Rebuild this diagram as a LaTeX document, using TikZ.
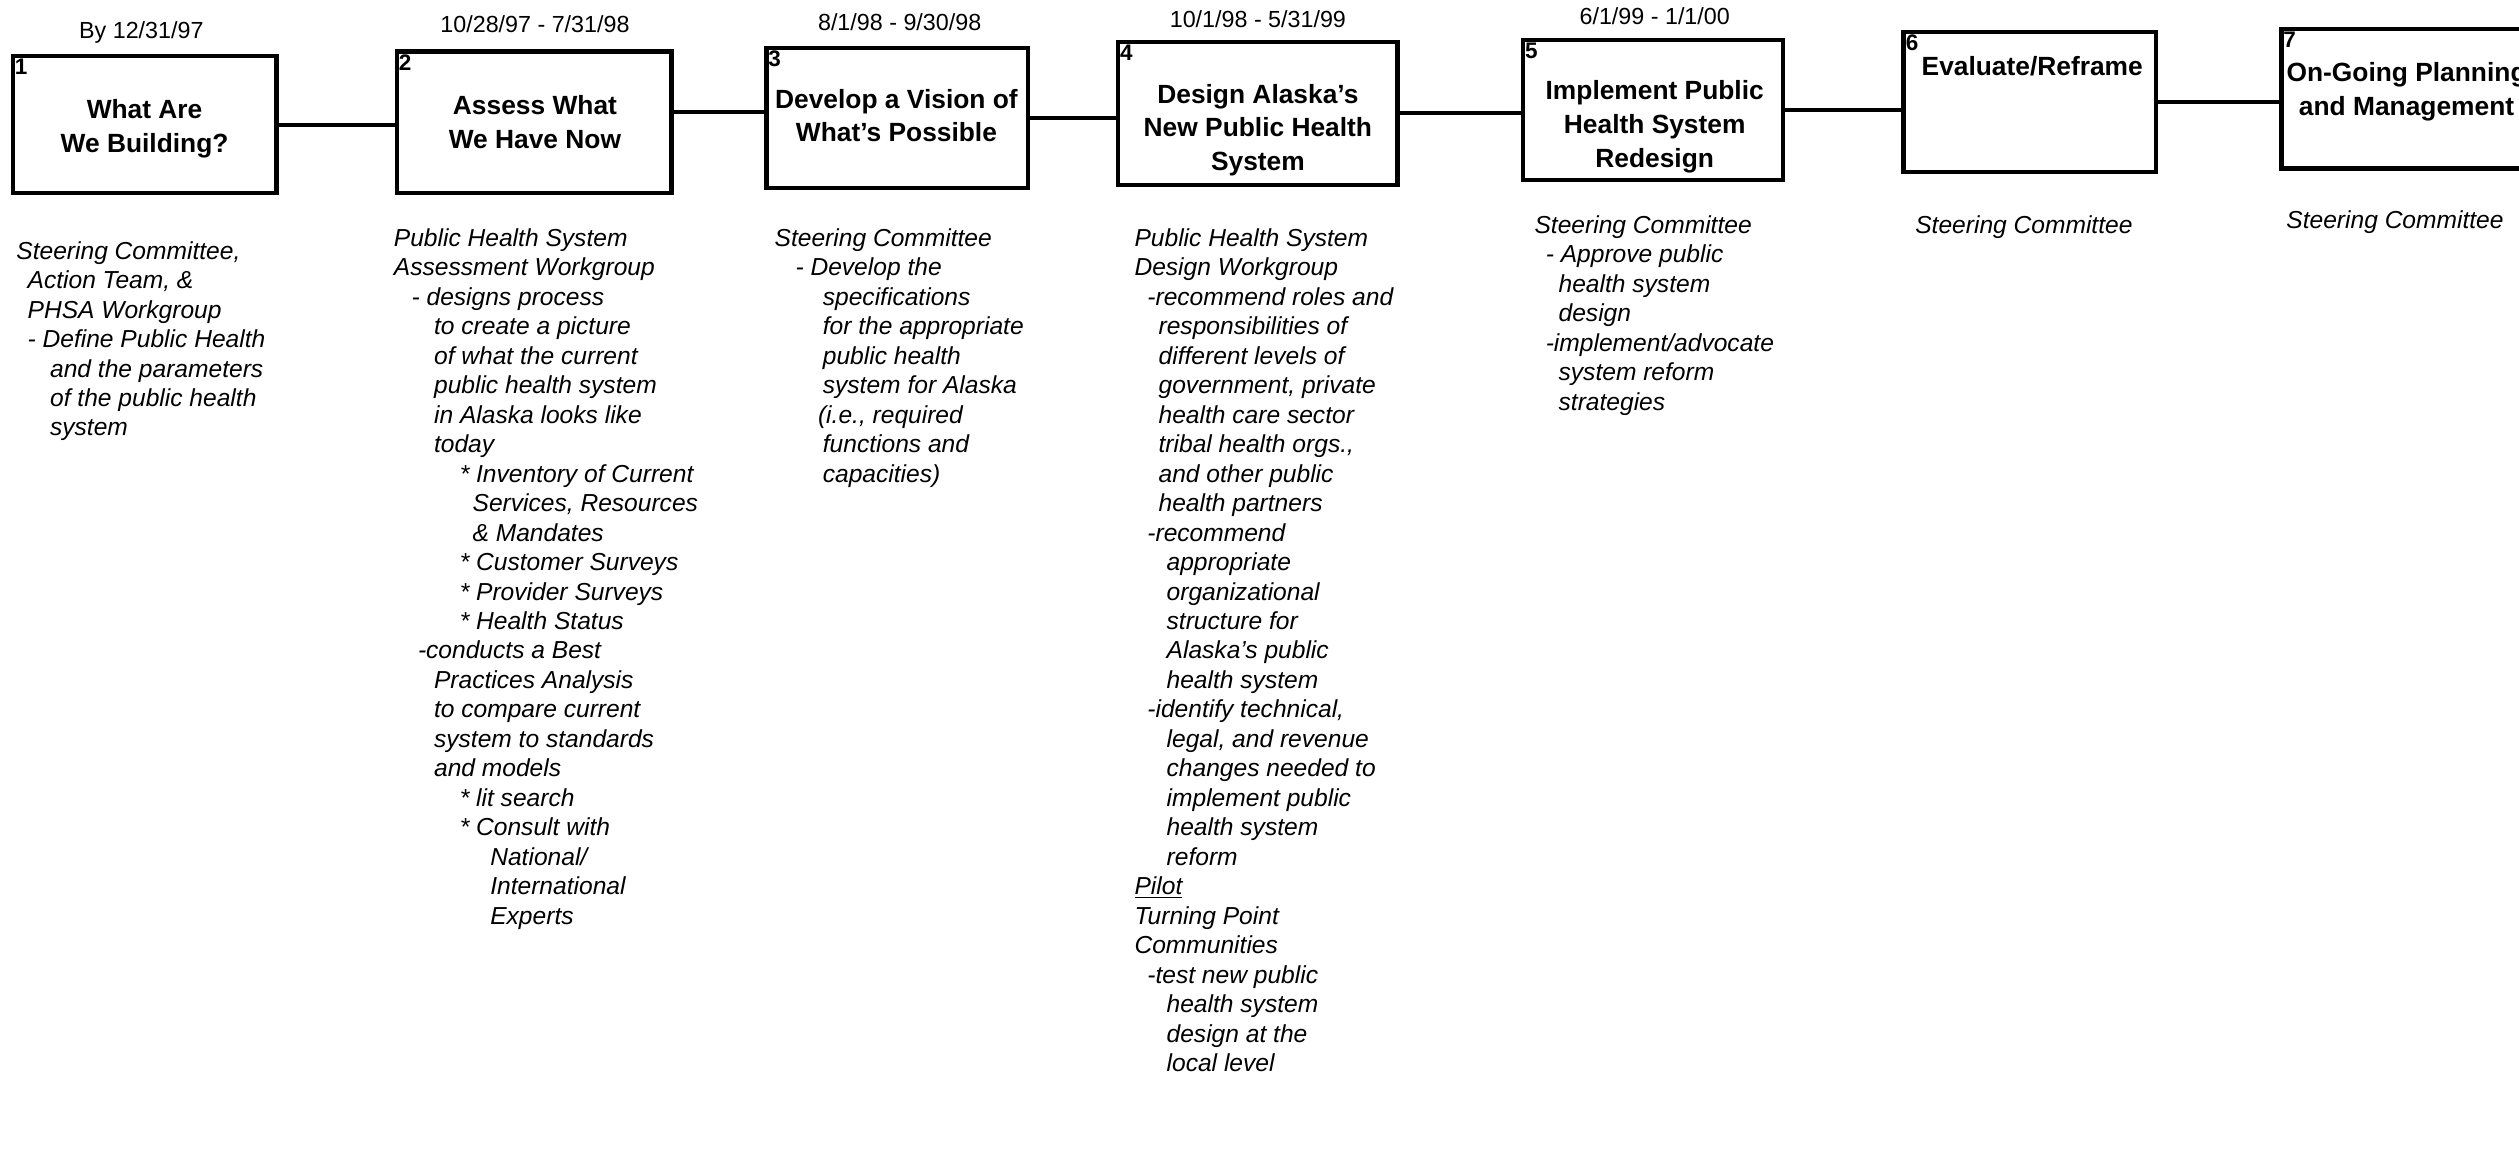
\documentclass[tikz,border=0pt]{standalone}
\usepackage{fontspec}
\setmainfont{Liberation Sans}
\begin{document}
\begin{tikzpicture}[x=1pt,y=-1pt,
  stagebox/.style={draw=black, line width=2.8pt, inner sep=0pt},
  titletext/.style={font=\bfseries\fontsize{16.4}{21}\selectfont, align=center, inner sep=0pt},
  numtext/.style={font=\bfseries\fontsize{14}{16}\selectfont, anchor=north west, inner xsep=2.5pt, inner ysep=3pt},
  datetext/.style={font=\fontsize{14.5}{17}\selectfont, inner sep=0pt},
  bodytext/.style={font=\itshape\fontsize{15.3}{18.35}\selectfont, align=left, anchor=north west, inner sep=0pt},
  link/.style={line width=2.5pt}]
\clip (0,0) rectangle (1568,731.4);
\fill[white] (0,0) rectangle (1568,731.4);

% boxes
\node[stagebox, minimum width=164pt, minimum height=85pt] (b1) at (90,77.5) {};
\node[stagebox, minimum width=171pt, minimum height=88pt] (b2) at (332.5,76) {};
\node[stagebox, minimum width=163pt, minimum height=87pt] (b3) at (558.5,73.5) {};
\node[stagebox, minimum width=174pt, minimum height=89pt] (b4) at (783,70.5) {};
\node[stagebox, minimum width=162pt, minimum height=87pt] (b5) at (1029,68.5) {};
\node[stagebox, minimum width=157pt, minimum height=87pt] (b6) at (1263.5,63.5) {};
\node[stagebox, minimum width=158pt, minimum height=87pt] (b7) at (1499,61.5) {};

% numbers
\node[numtext] (n1) at (b1.north west) {1};
\node[numtext] (n2) at (b2.north west) {2};
\node[numtext] (n3) at (b3.north west) {3};
\node[numtext] (n4) at (b4.north west) {4};
\node[numtext] (n5) at (b5.north west) {5};
\node[numtext] (n6) at (b6.north west) {6};
\node[numtext] (n7) at (b7.north west) {7};

% titles
\node[titletext] (t1) at (90,80) {What Are\\We Building?};
\node[titletext] (t2) at (333,76) {Assess What\\We Have Now};
\node[titletext] (t3) at (558,72) {Develop a Vision of\\What's Possible};
\node[titletext] (t4) at (783,81) {Design Alaska's\\New Public Health\\System};
\node[titletext] (t5) at (1030,79) {Implement Public\\Health System\\Redesign};
\node[titletext] (t6) at (1265,41) {Evaluate/Reframe};
\node[titletext] (t7) at (1498,57) {On-Going Planning\\and Management};

% dates
\node[datetext] (d1) at (88,20) {By 12/31/97};
\node[datetext] (d2) at (333,15) {10/28/97 - 7/31/98};
\node[datetext] (d3) at (560,14) {8/1/98 - 9/30/98};
\node[datetext] (d4) at (783,12) {10/1/98 - 5/31/99};
\node[datetext] (d5) at (1030,10) {6/1/99 - 1/1/00};

% connectors
\draw[link] (b1.east) -- (b1.east -| b2.west);
\draw[link] ([yshift=6pt]b2.east) -- ([yshift=6pt]b2.east -| b3.west);
\draw[link] (b3.east) -- (b3.east -| b4.west);
\draw[link] (b4.east) -- (b4.east -| b5.west);
\draw[link] (b5.east) -- (b5.east -| b6.west);
\draw[link] (b6.east) -- (b6.east -| b7.west);

% descriptions
\node[bodytext] (p1) at (10,150) {Steering Committee,\\
\hspace*{7pt}Action Team, \&\\
\hspace*{7pt}PHSA Workgroup\\
\hspace*{7pt}- Define Public Health\\
\hspace*{21pt}and the parameters\\
\hspace*{21pt}of the public health\\
\hspace*{21pt}system};

\node[bodytext] (p2) at (245,142) {Public Health System\\
Assessment Workgroup\\
\hspace*{11pt}- designs process\\
\hspace*{25pt}to create a picture\\
\hspace*{25pt}of what the current\\
\hspace*{25pt}public health system\\
\hspace*{25pt}in Alaska looks like\\
\hspace*{25pt}today\\
\hspace*{41pt}* Inventory of Current\\
\hspace*{49pt}Services, Resources\\
\hspace*{49pt}\& Mandates\\
\hspace*{41pt}* Customer Surveys\\
\hspace*{41pt}* Provider Surveys\\
\hspace*{41pt}* Health Status\\
\hspace*{15pt}-conducts a Best\\
\hspace*{25pt}Practices Analysis\\
\hspace*{25pt}to compare current\\
\hspace*{25pt}system to standards\\
\hspace*{25pt}and models\\
\hspace*{41pt}* lit search\\
\hspace*{41pt}* Consult with\\
\hspace*{60pt}National/\\
\hspace*{60pt}International\\
\hspace*{60pt}Experts};

\node[bodytext] (p3) at (482,142) {Steering Committee\\
\hspace*{13pt}- Develop the\\
\hspace*{30pt}specifications\\
\hspace*{30pt}for the appropriate\\
\hspace*{30pt}public health\\
\hspace*{30pt}system for Alaska\\
\hspace*{27pt}(i.e., required\\
\hspace*{30pt}functions and\\
\hspace*{30pt}capacities)};

\node[bodytext] (p4) at (706,142) {Public Health System\\
Design Workgroup\\
\hspace*{8pt}-recommend roles and\\
\hspace*{15pt}responsibilities of\\
\hspace*{15pt}different levels of\\
\hspace*{15pt}government, private\\
\hspace*{15pt}health care sector\\
\hspace*{15pt}tribal health orgs.,\\
\hspace*{15pt}and other public\\
\hspace*{15pt}health partners\\
\hspace*{8pt}-recommend\\
\hspace*{20pt}appropriate\\
\hspace*{20pt}organizational\\
\hspace*{20pt}structure for\\
\hspace*{20pt}Alaska's public\\
\hspace*{20pt}health system\\
\hspace*{8pt}-identify technical,\\
\hspace*{20pt}legal, and revenue\\
\hspace*{20pt}changes needed to\\
\hspace*{20pt}implement public\\
\hspace*{20pt}health system\\
\hspace*{20pt}reform\\
\underline{Pilot}\\
Turning Point\\
Communities\\
\hspace*{8pt}-test new public\\
\hspace*{20pt}health system\\
\hspace*{20pt}design at the\\
\hspace*{20pt}local level};

\node[bodytext] (p5) at (955,134) {Steering Committee\\
\hspace*{7pt}- Approve public\\
\hspace*{15pt}health system\\
\hspace*{15pt}design\\
\hspace*{7pt}-implement/advocate\\
\hspace*{15pt}system reform\\
\hspace*{15pt}strategies};

\node[bodytext] (p6) at (1192,134) {Steering Committee};
\node[bodytext] (p7) at (1423,131) {Steering Committee};
\end{tikzpicture}
\end{document}
